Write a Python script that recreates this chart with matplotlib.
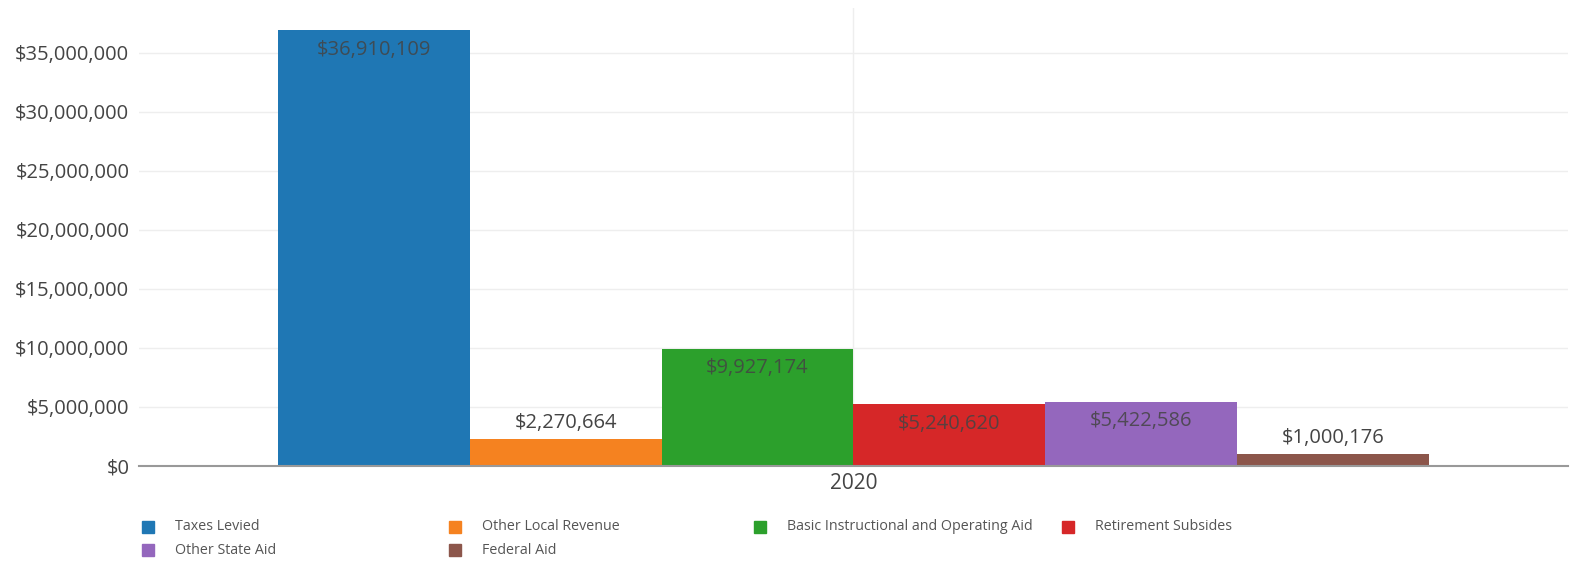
import matplotlib.pyplot as plt
from matplotlib.patches import Rectangle
from matplotlib.ticker import FuncFormatter

plt.rcParams['font.family'] = ['Open Sans', 'DejaVu Sans']

category = "2020"
series = ["Taxes Levied", "Other Local Revenue", "Basic Instructional and Operating Aid",
          "Retirement Subsides", "Other State Aid", "Federal Aid"]
values = [36910109, 2270664, 9927174, 5240620, 5422586, 1000176]
colors = ["#1f77b4", "#f58220", "#2ca02c", "#d62728", "#9467bd", "#8c564b"]
yticks = [0, 5000000, 10000000, 15000000, 20000000, 25000000, 30000000, 35000000]

fig = plt.figure(figsize=(15.72, 5.62), dpi=100)
ax = fig.add_axes([139 / 1572, 1 - 466 / 562, (1568 - 139) / 1572, (466 - 8) / 562])

n = len(series)
group = 0.806
width = group / n
for i, (name, v, c) in enumerate(zip(series, values, colors)):
    x = -group / 2 + width * (i + 0.5)
    ax.bar(x, v, width=width, color=c, label=name, zorder=3)
    label = "${:,}".format(v)
    if v > 3000000:
        # fits inside the bar, near its top
        ax.annotate(label, (x, v), xytext=(0, -14), textcoords="offset points",
                    ha="center", va="center", fontsize=14.5, color="#444444", alpha=0.85, zorder=4)
    else:
        ax.annotate(label, (x, v), xytext=(0, 12), textcoords="offset points",
                    ha="center", va="center", fontsize=14.5, color="#444444", zorder=4)

ax.set_xlim(-0.5, 0.5)
ax.set_ylim(0, 38800000)
ax.set_yticks(yticks)
ax.yaxis.set_major_formatter(FuncFormatter(lambda v, p: "${:,.0f}".format(v)))
ax.set_xticks([0])
ax.set_xticklabels([category])
ax.tick_params(axis="both", length=0, labelsize=14.5, labelcolor="#444444")
ax.tick_params(axis="x", labelsize=15, pad=5)
ax.tick_params(axis="y", pad=7)
ax.grid(True, color="#eeeeee", linewidth=1, zorder=0)
for s in ["top", "right", "left"]:
    ax.spines[s].set_visible(False)
ax.spines["bottom"].set_color("#999999")
ax.spines["bottom"].set_linewidth(1.5)
ax.spines["bottom"].set_zorder(5)

# legend laid out in fixed-width columns
col_x = [148, 455, 760, 1068]
row_y = [527, 550]
for i, (name, c) in enumerate(zip(series, colors)):
    px = col_x[i % 4]
    py = row_y[i // 4]
    fig.add_artist(Rectangle(((px - 6) / 1572, 1 - (py + 6) / 562), 12 / 1572, 12 / 562,
                             transform=fig.transFigure, color=c))
    fig.text((px + 27) / 1572, 1 - py / 562, name, ha="left", va="center",
             fontsize=10.3, color="#555555")

fig.savefig("out.png", dpi=100)
